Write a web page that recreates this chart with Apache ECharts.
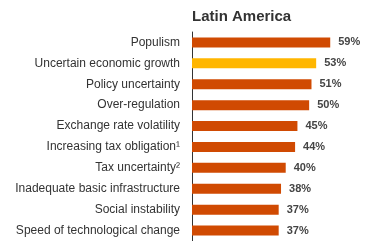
<!DOCTYPE html>
<html>
<head>
<meta charset="utf-8">
<script src="https://cdn.jsdelivr.net/npm/echarts@6/dist/echarts.min.js"></script>
<style>
  html, body { margin: 0; padding: 0; background: #fff; }
  #chart { width: 370px; height: 241px; }
</style>
</head>
<body>
<div id="chart"></div>
<script>
// categories, top to bottom
var categories = ['Populism', 'Uncertain economic growth', 'Policy uncertainty', 'Over-regulation',
  'Exchange rate volatility', 'Increasing tax obligation\u00b9', 'Tax uncertainty\u00b2',
  'Inadequate basic infrastructure', 'Social instability', 'Speed of technological change'];
var values = [59, 53, 51, 50, 45, 44, 40, 38, 37, 37];
var highlight = 'Uncertain economic growth';

var chart = echarts.init(document.getElementById('chart'));

var barData = [];
for (var i = 0; i < values.length; i++) {
  barData.push({
    value: values[i],
    itemStyle: { color: categories[i] == highlight ? '#FFB600' : '#D04A02' }
  });
}

var option = {
  animation: false,
  textStyle: { fontFamily: 'Liberation Sans, Arial, sans-serif' },
  title: {
    text: 'Latin America',
    left: 192,
    top: 9,
    padding: 0,
    textStyle: { fontSize: 15, fontWeight: 'bold', color: '#333' }
  },
  grid: { left: 192, top: 32, width: 164, height: 212 },
  xAxis: {
    type: 'value',
    min: 0,
    max: 70,
    show: false
  },
  yAxis: {
    type: 'category',
    inverse: true,
    data: categories,
    axisLine: { show: true, lineStyle: { color: '#333', width: 1 } },
    axisTick: { show: false },
    axisLabel: { color: '#333', fontSize: 12, margin: 12 }
  },
  series: [{
    type: 'bar',
    data: barData,
    barWidth: 10,
    label: {
      show: true,
      position: 'right',
      distance: 8,
      formatter: '{c}%',
      color: '#444',
      fontSize: 11,
      fontWeight: 'bold'
    }
  }]
};

chart.setOption(option);
</script>
</body>
</html>
